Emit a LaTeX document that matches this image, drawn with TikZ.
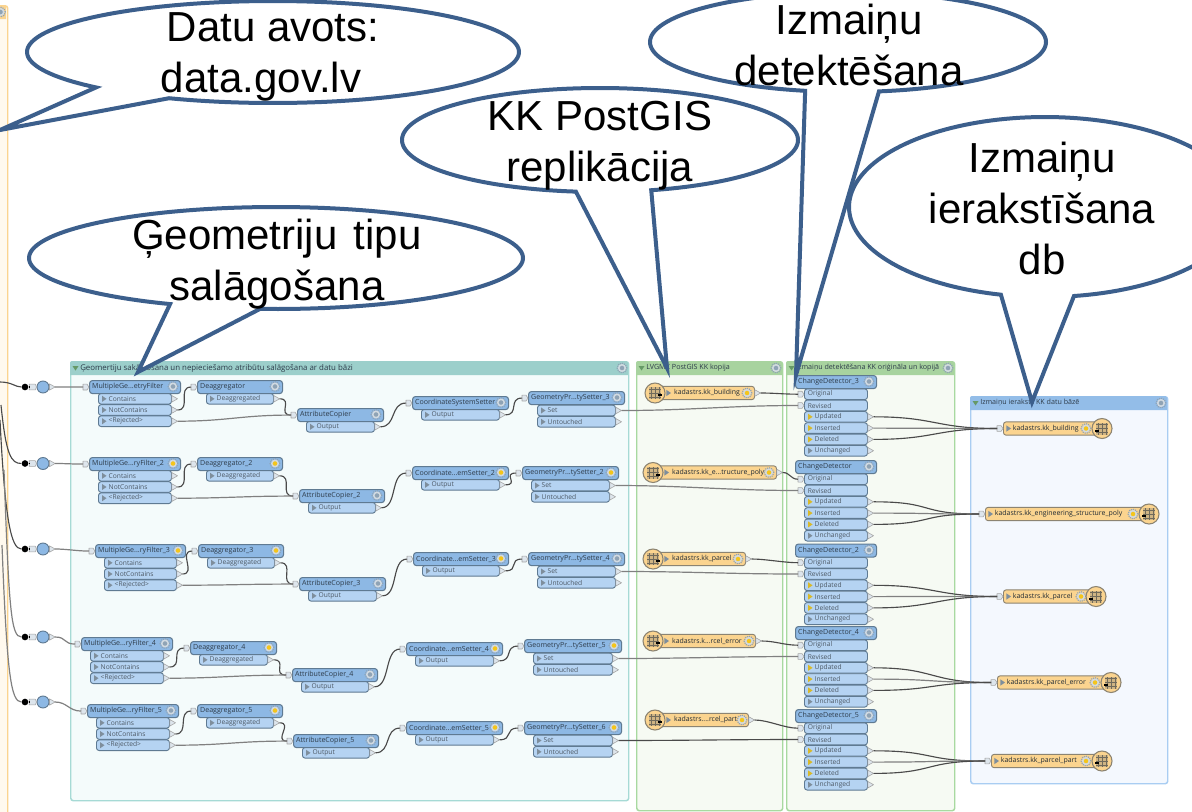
\documentclass[tikz,border=0pt]{standalone}
\usepackage{fontspec}
\setmainfont{Liberation Sans}
\newfontfamily\uifont{Open Sans}
\definecolor{calloutc}{HTML}{3C5F8C}
\definecolor{hdrc}{HTML}{8DB8E4}
\definecolor{rowc}{HTML}{B5D3F2}
\definecolor{edgec}{HTML}{5F7A92}
\definecolor{uitext}{HTML}{2E3C4A}
\definecolor{wirec}{HTML}{4A4A4A}
\definecolor{triG}{HTML}{7E8E9C}
\definecolor{triY}{HTML}{D8B92A}
\definecolor{gearG}{HTML}{8FA3B5}
\definecolor{gearY}{HTML}{F4C51C}
\definecolor{orangec}{HTML}{FBD48F}
\definecolor{orangeE}{HTML}{8C8472}
\definecolor{tipc}{HTML}{DDE5EC}
\definecolor{tealH}{HTML}{9CCFCB}
\definecolor{tealB}{HTML}{F4FBFB}
\definecolor{tealE}{HTML}{A6DAD5}
\definecolor{greenH}{HTML}{A8D39F}
\definecolor{greenB}{HTML}{F6FAF3}
\definecolor{greenE}{HTML}{A8D9A0}
\definecolor{blueH}{HTML}{93BDE8}
\definecolor{blueB}{HTML}{F4F8FE}
\definecolor{blueE}{HTML}{A9CDF2}
\definecolor{leftB}{HTML}{FFF9EE}
\tikzset{
  hdrbox/.style={draw=edgec,fill=hdrc,line width=0.8pt,rounded corners=2.2pt,anchor=north west,inner xsep=2pt,inner ysep=0pt,minimum height=9.8pt,align=left,font=\uifont\fontsize{5.3}{6}\selectfont,text=uitext},
  rowbox/.style={draw=edgec,fill=rowc,line width=0.7pt,rounded corners=2pt,anchor=west,inner xsep=1.5pt,inner ysep=0pt,minimum height=8pt,align=left,font=\uifont\fontsize{5}{6}\selectfont,text=uitext!85},
  fmebox/.style={draw=orangeE,fill=orangec,line width=0.7pt,rounded corners=2pt,anchor=west,inner xsep=1.5pt,inner ysep=0pt,minimum height=10pt,align=left,font=\uifont\fontsize{5.2}{6}\selectfont,text=uitext!70!black},
  iconc/.style={circle,draw=orangeE,fill=orangec,line width=0.8pt,minimum size=15pt,inner sep=0pt},
  portdot/.style={circle,draw=edgec,fill=hdrc,line width=0.7pt,minimum size=9pt,inner sep=0pt},
  blobdot/.style={circle,fill=black,minimum size=5pt,inner sep=0pt},
  porttip/.style={draw=gray!70,fill=tipc,line width=0.45pt,line join=round},
  wire/.style={draw=wirec,line width=0.85pt},
  wirel/.style={draw=wirec!70,line width=0.9pt},
  paneltitle/.style={anchor=west,inner sep=0pt,font=\uifont\fontsize{5.35}{6}\selectfont,text=uitext},
  panelbox/.style={anchor=north west,line width=1.1pt,rounded corners=2pt,inner sep=0pt},
  calloutline/.style={draw=calloutc,fill=white,line width=3pt,line join=miter,miter limit=30},
  callouttext/.style={align=center,inner sep=0pt,font=\fontsize{31.5}{38.25}\selectfont,text=black},
}
\newcommand{\gearicon}[3]{%
  \draw[gearG,line width=1pt,dash pattern=on 0.8pt off 0.75pt] (#1,#2) circle[radius=3.6pt];
  \fill[gearG!40] (#1,#2) circle[radius=3pt];
  \fill[#3] (#1,#2) circle[radius=1.7pt];}
\newcommand{\inport}[1]{%
  \draw[porttip] ([xshift=-4.5pt,yshift=2.2pt]#1.west) -- ([xshift=-1.5pt,yshift=2.2pt]#1.west) -- (#1.west) -- ([xshift=-1.5pt,yshift=-2.2pt]#1.west) -- ([xshift=-4.5pt,yshift=-2.2pt]#1.west) -- cycle;
  \coordinate (#1-i) at ([xshift=-4.5pt]#1.west);}
\newcommand{\outport}[1]{%
  \draw[porttip] ([yshift=2.4pt]#1.east) -- ([xshift=4.2pt]#1.east) -- ([yshift=-2.4pt]#1.east) -- cycle;
  \coordinate (#1-o) at ([xshift=4.2pt]#1.east);}
\newcommand{\hdr}[6]{% name x y w label gear
  \node[hdrbox,text width=(#4)*0.75pt-4pt] (#1) at (#2,#3) {#5};
  \gearicon{#2+#4-7}{#3+6.5}{#6}
  \inport{#1}}
\newcommand{\hdrnoin}[6]{%
  \node[hdrbox,text width=(#4)*0.75pt-4pt] (#1) at (#2,#3) {#5};
  \gearicon{#2+#4-7}{#3+6.5}{#6}}
\newcommand{\xrow}[6]{% name x yc w label tri
  \node[rowbox,text width=(#4)*0.75pt-3pt] (#1) at (#2,#3) {\hspace*{6.2pt}#5};
  \fill[#6] ([xshift=3pt,yshift=2.3pt]#1.west) -- ([xshift=6.4pt]#1.west) -- ([xshift=3pt,yshift=-2.3pt]#1.west) -- cycle;
  \outport{#1}}
\newcommand{\inrow}[5]{% name x yc w label
  \node[rowbox,text width=(#4)*0.75pt-3pt] (#1) at (#2,#3) {#5};
  \inport{#1}}
% three-port filter: id x y w label gear
\newcommand{\mfbox}[6]{%
  \xrow{#1c}{#2+9}{#3+18.8}{#4-18}{Contains}{triG}
  \xrow{#1n}{#2+9}{#3+30}{#4-18}{NotContains}{triG}
  \xrow{#1r}{#2+9}{#3+41.2}{#4-18}{<Rejected>}{triG}
  \hdr{#1}{#2}{#3}{#4}{#5}{#6}}
% one output row: id x y w label gear rowlabel
\newcommand{\onebox}[7]{%
  \xrow{#1q}{#2+9}{#3+18.8}{#4-18}{#7}{triG}
  \hdr{#1}{#2}{#3}{#4}{#5}{#6}}
\newcommand{\gpbox}[6]{%
  \xrow{#1s}{#2+9}{#3+19.5}{#4-18}{Set}{triG}
  \xrow{#1u}{#2+9}{#3+30.8}{#4-18}{Untouched}{triG}
  \hdr{#1}{#2}{#3}{#4}{#5}{#6}}
\newcommand{\cdbox}[3]{% id y label
  \inrow{#1a}{804}{#2+19.2}{63}{\hspace*{1pt}Original}
  \inrow{#1b}{804}{#2+30.5}{63}{\hspace*{1pt}Revised}
  \xrow{#1c}{804}{#2+41.8}{63}{Updated}{triY}
  \xrow{#1d}{804}{#2+53.1}{63}{Inserted}{triY}
  \xrow{#1e}{804}{#2+64.4}{63}{Deleted}{triY}
  \xrow{#1f}{804}{#2+75.7}{63}{Unchanged}{triG}
  \hdrnoin{#1}{795}{#2}{81}{#3}{gearG}}
% table icon inside a circle
\newcommand{\tableicon}[3]{% name x y
  \node[iconc] (#1) at (#2,#3) {};
  \fill[orangeE!40!orangec] ([xshift=-4.5pt,yshift=-4.5pt]#1.center) rectangle ([xshift=4.5pt,yshift=4.5pt]#1.center);
  \draw[orangeE!80!black,line width=0.3pt,step=3pt,shift={(#1.center)}] (-4.5pt,-4.5pt) grid (4.5pt,4.5pt);
  }
\newcommand{\reader}[6]{% name circx y bodyend label gearx
  \node[fmebox,text width=(#4-#2)*0.75pt-3pt] (#1) at (#2,#3) {\hspace*{12.5pt}#5};
  \fill[triG] ([xshift=8.6pt,yshift=2.3pt]#1.west) -- ([xshift=12pt]#1.west) -- ([xshift=8.6pt,yshift=-2.3pt]#1.west) -- cycle;
  \gearicon{#6}{#3}{gearY}
  \outport{#1}
  \tableicon{#1ic}{#2}{#3}
  \fill[black] ([xshift=2pt,yshift=-1pt]#1ic.center) rectangle ([xshift=5.5pt,yshift=-2.6pt]#1ic.center);}
\newcommand{\writer}[6]{% name x y circx label gearx
  \node[fmebox,text width=(#4-#2)*0.75pt-3pt] (#1) at (#2,#3) {\hspace*{5.6pt}#5};
  \fill[triG] ([xshift=2.6pt,yshift=2.3pt]#1.west) -- ([xshift=6pt]#1.west) -- ([xshift=2.6pt,yshift=-2.3pt]#1.west) -- cycle;
  \gearicon{#6}{#3}{gearY}
  \inport{#1}
  \tableicon{#1ic}{#4}{#3}
  \fill[black] ([xshift=-5.5pt,yshift=-1pt]#1ic.center) rectangle ([xshift=-2pt,yshift=-2.6pt]#1ic.center);}
\newcommand{\panel}[9]{% name x y w h fill border hdr title
  \node[panelbox,draw=#7,fill=#6,minimum width=#4*0.75pt,minimum height=#5*0.75pt] (#1) at (#2,#3) {};
  \fill[#8] ({#2},{#3+14}) [rounded corners=1.5pt] -- (#2,#3) -- ({#2+#4},#3) [sharp corners] -- ({#2+#4},{#3+14}) -- cycle;
  \fill[gray!80!green] ({#2+2.5},{#3+5}) -- ({#2+8.5},{#3+5}) -- ({#2+5.5},{#3+9.5}) -- cycle;
  \node[paneltitle] (#1t) at ({#2+10},{#3+7}) {#9};
  \gearicon{#2+#4-6}{#3+7}{gearG}}
\newcommand{\callout}[9]{% name cx cy rx ry tstart tend tipx tipy
  \coordinate (#1tip) at (#8,#9);
  \draw[calloutline] plot[domain=#6:#7,samples=160,variable=\t] ({#2+#4*cos(\t)},{#3+#5*sin(\t)}) -- (#1tip) -- cycle;}
\newcommand{\wirep}[3]{\draw[wire] (#2) .. controls +(#1,0) and +(-#1,0) .. (#3);}
\newcommand{\wirel}[3]{\draw[wirel] (#2) .. controls +(#1,0) and +(-#1,0) .. (#3);}
\newcommand{\source}[2]{% id y
  \node[blobdot] (b#1) at (25,#2) {};
  \node[portdot] (c#1) at (43,#2) {};
  \draw[porttip] ([xshift=-5.5pt,yshift=2.2pt]c#1.west) -- ([xshift=-1pt,yshift=2.2pt]c#1.west) -- (c#1.west) -- ([xshift=-1pt,yshift=-2.2pt]c#1.west) -- ([xshift=-5.5pt,yshift=-2.2pt]c#1.west) -- cycle;
  \draw[black,line width=1.1pt] (b#1) -- ([xshift=-5.5pt]c#1.west);
  \outport{c#1}}
\begin{document}
\begin{tikzpicture}[x=0.75pt,y=-0.75pt]
\useasboundingbox (0,0) rectangle (1192,811);
\clip (0,0) rectangle (1192,811);
\fill[white] (0,0) rectangle (1192,811);
% left panel, mostly off the page
\node[panelbox,draw=orangec,fill=leftB,minimum width=300pt,minimum height=700pt] (leftp) at (-393,5) {};
\fill[orangec] (-50,5) [rounded corners=1.5pt] -- (6,5) [sharp corners] -- (6,19) -- (-50,19) -- cycle;
\gearicon{0.5}{12}{gearG}
% panels
\panel{pa}{70}{361}{558}{439}{tealB}{tealE}{tealH}{\fontsize{5.9}{6}\selectfont Ģeomertiju sakārtošana un nepieciešamo atribūtu salāgošana ar datu bāzi}
\panel{pb}{636}{361}{146}{449}{greenB}{greenE}{greenH}{LVGMC PostGIS KK kopija}
\panel{pc}{786}{361}{168}{449}{greenB}{greenE}{greenH}{Izmaiņu detektēšana KK oriģināla un kopijā}
\panel{pd}{970}{396}{197}{387}{blueB}{blueE}{blueH}{Izmaiņu ieraksts KK datu bāzē}
% sources
\source{1}{387}\source{2}{463.5}\source{3}{549}\source{4}{637}\source{5}{702}
% row 1
\mfbox{ma}{89}{380}{91}{MultipleGe...etryFilter}{gearG}
\onebox{da}{197}{380}{85}{Deaggregator}{gearG}{Deaggregated}
\onebox{aa}{297}{408}{86}{AttributeCopier}{gearG}{Output}
\onebox{sa}{412}{396}{96}{CoordinateSystemSetter}{gearG}{Output}
\gpbox{ga}{528}{391}{96}{GeometryPr...tySetter\_3}{gearG}
% row 2
\mfbox{mb}{89}{457}{91}{MultipleGe...ryFilter\_2}{gearY}
\onebox{db}{197}{457}{85}{Deaggregator\_2}{gearY}{Deaggregated}
\onebox{ab}{299}{489}{85}{AttributeCopier\_2}{gearG}{Output}
\onebox{sb}{412}{466}{96}{Coordinate...emSetter\_2}{gearY}{Output}
\gpbox{gb}{522}{466}{96}{GeometryPr...tySetter\_2}{gearY}
% row 3
\mfbox{mc}{95}{544}{90}{MultipleGe...ryFilter\_3}{gearY}
\onebox{dc}{198}{544}{85}{Deaggregator\_3}{gearY}{Deaggregated}
\onebox{ac}{299}{577}{86}{AttributeCopier\_3}{gearG}{Output}
\onebox{sc}{413}{552}{95}{Coordinate...emSetter\_3}{gearY}{Output}
\gpbox{gc}{528}{552}{96}{GeometryPr...tySetter\_4}{gearG}
% row 4
\mfbox{md}{81}{637}{91}{MultipleGe...ryFilter\_4}{gearG}
\onebox{dd}{190}{641}{86}{Deaggregator\_4}{gearY}{Deaggregated}
\onebox{ad}{292}{668}{85}{AttributeCopier\_4}{gearG}{Output}
\onebox{sd}{406}{642}{96}{Coordinate...emSetter\_4}{gearY}{Output}
\gpbox{gd}{524}{639}{97}{GeometryPr...tySetter\_5}{gearY}
% row 5
\mfbox{me}{87}{704}{91}{MultipleGe...ryFilter\_5}{gearG}
\onebox{de}{197}{704}{85}{Deaggregator\_5}{gearY}{Deaggregated}
\onebox{ae}{293}{734}{85}{AttributeCopier\_5}{gearG}{Output}
\onebox{se}{406}{721}{96}{Coordinate...emSetter\_5}{gearY}{Output}
\gpbox{ge}{524}{721}{97}{GeometryPr...tySetter\_6}{gearY}
% readers
\reader{ra}{655}{393}{754}{kadastrs.kk\_building}{747}
\reader{rb}{653}{472.5}{776}{kadastrs.kk\_e...tructure\_poly}{769}
\reader{rc}{653}{559}{745}{kadastrs.kk\_parcel}{738}
\reader{rd}{653}{641}{755}{kadastrs.k...rcel\_error}{749}
\reader{re}{655}{720}{748}{kadastrs....rcel\_part}{742}
% change detectors
\cdbox{ca}{375}{ChangeDetector\_3}
\cdbox{cb}{460}{ChangeDetector}
\cdbox{cc}{543.5}{ChangeDetector\_2}
\cdbox{cd}{626}{ChangeDetector\_4}
\cdbox{ce}{709}{ChangeDetector\_5}
% writers
\writer{wa}{1003}{428.5}{1102}{kadastrs.kk\_building}{1086}
\writer{wb}{985}{514}{1149}{kadastrs.kk\_engineering\_structure\_poly}{1133}
\writer{wc}{1003}{596.5}{1096}{kadastrs.kk\_parcel}{1081}
\writer{wd}{997}{682.5}{1111}{kadastrs.kk\_parcel\_error}{1095}
\writer{we}{991}{761}{1102}{kadastrs.kk\_parcel\_part}{1086}
% free ends of incoming wires
\coordinate (la) at (0,382);
\coordinate (lb) at (1,405);
\coordinate (lc) at (0,420);
\coordinate (ld) at (4,470);
\coordinate (le) at (2,545);
\draw[wire] (la) .. controls +(12,0) and +(-10,0) .. (b1);
\draw[wire] (lb) .. controls +(5,50) and +(-14,0) .. (b2);
\draw[wire] (lc) .. controls +(5,100) and +(-14,0) .. (b3);
\draw[wirel] (ld) .. controls +(5,140) and +(-14,0) .. (b4);
\draw[wirel] (le) .. controls +(5,130) and +(-14,0) .. (b5);
% row wires
\foreach \i/\m in {1/ma,2/mb,3/mc,4/md,5/me}{\wirel{12}{c\i-o}{\m-i}}
\foreach \m/\d/\a/\s/\g in {ma/da/aa/sa/ga,mb/db/ab/sb/gb,mc/dc/ac/sc/gc,md/dd/ad/sd/gd,me/de/ae/se/ge}{
  \wirep{14}{\m n-o}{\d-i}
  \wirep{14}{\d q-o}{\a-i}
  \wirel{50}{\m r-o}{\a-i}
  \wirep{16}{\a q-o}{\s-i}
  \wirep{14}{\s q-o}{\g-i}}
% set to revised
\wirel{70}{gas-o}{cab-i}
\wirel{70}{gbs-o}{cbb-i}
\wirel{70}{gcs-o}{ccb-i}
\wirel{70}{gds-o}{cdb-i}
\wirep{70}{ges-o}{ceb-i}
% readers to original
\wirep{14}{ra-o}{caa-i}
\wirep{8}{rb-o}{cba-i}
\wirep{14}{rc-o}{cca-i}
\wirep{14}{rd-o}{cda-i}
\wirep{14}{re-o}{cea-i}
% detectors to writers
\foreach \c/\w in {ca/wa,cb/wb,cc/wc,cd/wd,ce/we}{
  \wirep{62}{\c c-o}{\w-i}
  \wirel{62}{\c d-o}{\w-i}
  \wirep{62}{\c e-o}{\w-i}}
% callouts
\callout{ka}{273}{52}{246}{51}{115}{-224}{0}{130}
\node[callouttext] (ta) at (267,57) {\hspace*{9pt}Datu avots:\\data.gov.lv\hspace*{9pt}};
\callout{kb}{600}{140}{198}{52}{75}{-263}{667}{368}
\node[callouttext] (tb) at (600,146) {KK PostGIS\\replikācija};
\callout{kc}{848}{42}{198}{50}{81}{-257.5}{796}{375}
\node[callouttext] (tc) at (849,45) {Izmaiņu\\detektēšana};
\callout{kd}{1045}{207}{196}{90}{81.5}{-257}{1032}{402}
\node[callouttext] (td) at (1042,208) {Izmaiņu\\ierakstīšana\\db};
\callout{ke}{276}{258}{247}{51}{93.7}{-244.6}{138}{372}
\node[callouttext] (te) at (277,264) {Ģeometriju\hspace*{3.5pt} tipu\\salāgošana};
\end{tikzpicture}
\end{document}
